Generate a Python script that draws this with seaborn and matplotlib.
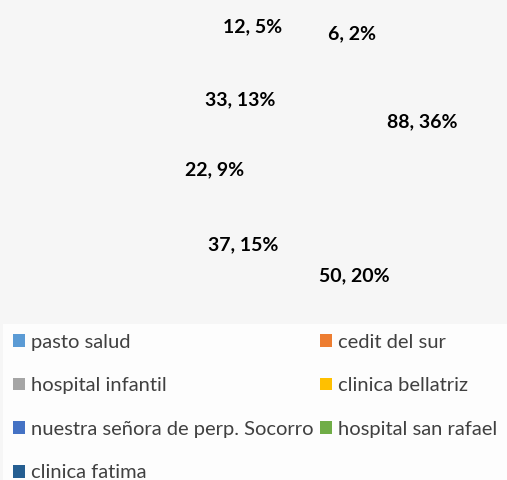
import numpy as np
import matplotlib.pyplot as plt
import seaborn as sns
from matplotlib.patches import Patch

# data
names = ['pasto salud', 'cedit del sur', 'hospital infantil', 'clinica bellatriz',
         'nuestra señora de perp. Socorro', 'hospital san rafael', 'clinica fatima']
counts = [88, 50, 37, 22, 33, 12, 6]
percents = [36, 20, 15, 9, 13, 5, 2]
colors = ['#5B9BD5', '#ED7D31', '#A5A5A5', '#FFC000', '#4472C4', '#70AD47', '#255E91']

sns.set_theme(style='white')
plt.rcParams['font.family'] = ['Lato', 'DejaVu Sans']

fig = plt.figure(figsize=(5.07, 4.8), dpi=100)
fig.patch.set_facecolor('#f6f6f6')
ax = fig.add_axes([0.343, 0.333, 0.592, 0.625])
ax.set_facecolor('none')

# slices themselves are not shown in the original, only their labels
wedges, _ = ax.pie(counts, startangle=90, counterclock=False, radius=1,
                   wedgeprops=dict(facecolor='none', edgecolor='none'))

for i, w in enumerate(wedges):
    mid = np.deg2rad((w.theta1 + w.theta2) / 2)
    share = percents[i]
    dist = 0.73
    if share < 6:
        # small slices: push labels outward and apart
        if i == len(wedges) - 2:
            dist, shift = 1.07, 9
        else:
            dist, shift = 0.93, -16
        mid = mid + np.deg2rad(shift)
    ax.text(dist * np.cos(mid), dist * np.sin(mid), f'{counts[i]}, {share}%',
            ha='center', va='center', fontsize=14, fontweight='bold', color='black')

ax.set_xlim(-1, 1)
ax.set_ylim(-1, 1)
ax.set_aspect('equal')
ax.axis('off')

# legend is filled row by row in the original
order = [0, 2, 4, 6, 1, 3, 5]
handles = [Patch(facecolor=colors[k], edgecolor='none') for k in order]
labels = [names[k] for k in order]
leg = fig.legend(handles, labels, loc='upper left', bbox_to_anchor=(0.006, 0.326),
                 ncol=2, frameon=True, fontsize=14.5, handlelength=0.6, handleheight=0.6,
                 handletextpad=0.3, labelspacing=1.32, columnspacing=0.3,
                 borderaxespad=0, borderpad=0.5, fancybox=False)
leg.get_frame().set_facecolor('white')
leg.get_frame().set_edgecolor('none')
for t in leg.get_texts():
    t.set_color('#404040')

fig.savefig('out.png', dpi=100, facecolor=fig.get_facecolor())
